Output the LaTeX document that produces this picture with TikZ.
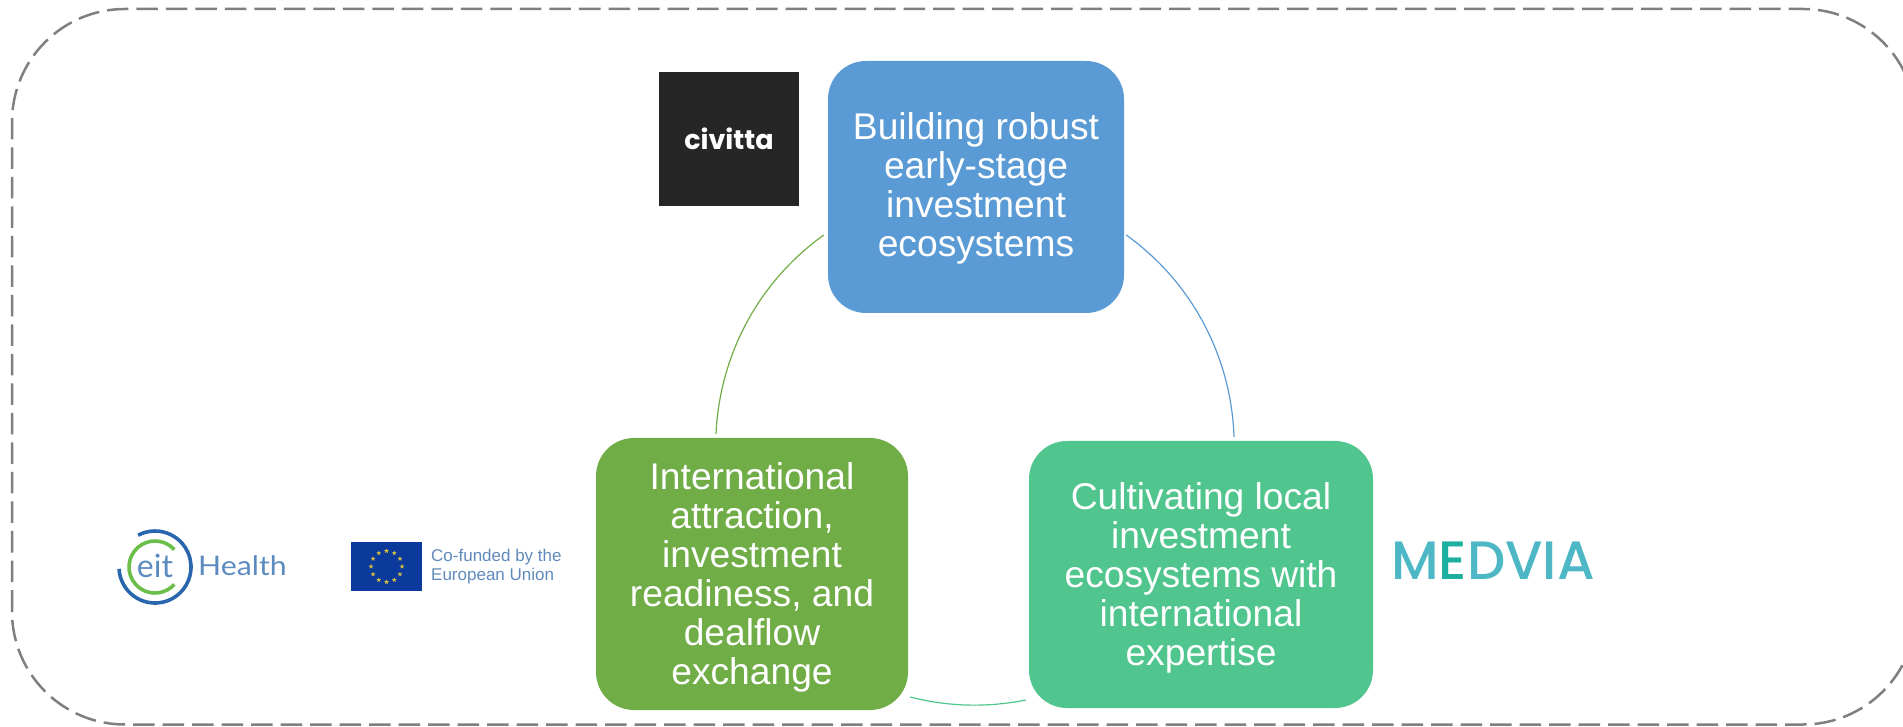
\documentclass[tikz,border=0pt]{standalone}
\usepackage{fontspec}
\usetikzlibrary{shapes.geometric,calc}
\setmainfont{Liberation Sans}
\newfontfamily\logofont{Poppins}
\newfontfamily\logomedium{Poppins Medium}
\newfontfamily\logolight{Lato}
\definecolor{bluebox}{HTML}{5B9BD5}
\definecolor{greenbox}{HTML}{70AD47}
\definecolor{tealbox}{HTML}{50C58E}
\definecolor{framegray}{HTML}{7F7F7F}
\definecolor{eitblue}{HTML}{2A66AE}
\definecolor{eittext}{HTML}{5C8BC0}
\definecolor{eitgreen}{HTML}{6CBE4B}
\definecolor{euflag}{HTML}{0B3A9C}
\definecolor{eustar}{HTML}{D8C040}
\definecolor{eutext}{HTML}{5F8ABA}
\definecolor{medvia}{HTML}{4DB7C6}
\definecolor{medviadark}{HTML}{1DAF9F}
\definecolor{civbg}{HTML}{262626}
\newcommand{\toppad}[1]{\rule{0pt}{#1pt}}
\tikzset{
  x=1pt,y=1pt,
  box/.style={rectangle,rounded corners=38pt,text=white,align=center,inner sep=0pt,
    font=\fontsize{37.2}{39}\selectfont},
  link/.style={line width=1.2pt},
  framed/.style={draw=framegray,line width=2.5pt,dash pattern=on 21.5pt off 8pt,rounded corners=113pt}
}
\begin{document}
\begin{tikzpicture}
\useasboundingbox (0,0) rectangle (1903,726);
\clip (0,0) rectangle (1903,726);
\draw[framed] (12,1.5) rectangle (1916,717);
\node[box,fill=bluebox,minimum width=296pt,minimum height=252pt] (blue) at (976,539)
  {\toppad{29}Building robust\\early-stage\\investment\\ecosystems};
\node[box,fill=greenbox,minimum width=312pt,minimum height=272pt] (green) at (752,152)
  {\toppad{33}International\\attraction,\\investment\\readiness, and\\dealflow\\exchange};
\node[box,fill=tealbox,minimum width=344pt,minimum height=267pt] (teal) at (1201,151.5)
  {\toppad{33}Cultivating local\\investment\\ecosystems with\\international\\expertise};
% connectors
\coordinate (a1s) at ($(blue.east)+(2,-48)$);
\coordinate (a1e) at ($(teal.north)+(33,4)$);
\coordinate (a2s) at ($(green.north)+(-36,4)$);
\coordinate (a2e) at ($(blue.west)+(-4,-48)$);
\coordinate (a3s) at ($(green.east)+(2,-123)$);
\coordinate (a3e) at ($(teal.west)+(-3,-125.5)$);
\draw[link,draw=bluebox] (a1s) to[out=-35.6,in=92,looseness=.9] (a1e);
\draw[link,draw=greenbox] (a2s) to[out=87.3,in=215.6,looseness=.9] (a2e);
\draw[link,draw=tealbox] (a3s) to[out=-14.5,in=191.4,looseness=.8625] (a3e);
% civitta logo
\node[fill=civbg,minimum width=140pt,minimum height=134pt,inner sep=0pt,text=white,
  font=\logofont\bfseries\fontsize{27}{27}\selectfont] (civitta) at (729,587) {civitta};
% eit health logo
\coordinate (eitc) at (155,159);
\draw[eitblue,line width=3.6pt] ($(eitc)+(183:36)$) arc[start angle=183,end angle=478,radius=36pt];
\draw[eitgreen,line width=3.6pt] ($(eitc)+(42:26)$) arc[start angle=42,end angle=318,radius=26pt];
\node[text=eittext,inner sep=0pt,font=\logolight\fontsize{32}{32}\selectfont] (eit) at (155,160) {eit};
\node[text=eittext,inner sep=0pt,font=\logolight\fontsize{27}{27}\selectfont,xscale=1.12,anchor=west] (health) at (198,160) {Health};
% EU flag
\node[fill=euflag,minimum width=71pt,minimum height=49pt,inner sep=0pt] (flag) at (386.5,159.5) {};
\foreach \a in {0,30,...,330}
  \node[star,star points=5,star point ratio=2.4,fill=eustar,inner sep=0pt,minimum size=5pt] at ($(flag.center)+(\a:15.5)$) {};
\node[text=eutext,inner sep=0pt,anchor=west,align=left,
  font=\fontsize{17}{19}\selectfont] (eutxt) at (431,159.5) {Co-funded by the\\European Union};
% MEDVIA
\node[text=medvia,inner sep=0pt,anchor=west,font=\logomedium\fontsize{54}{54}\selectfont] (med) at (1391,165)
  {M\textcolor{medviadark}{E}DVIA};
\end{tikzpicture}
\end{document}
